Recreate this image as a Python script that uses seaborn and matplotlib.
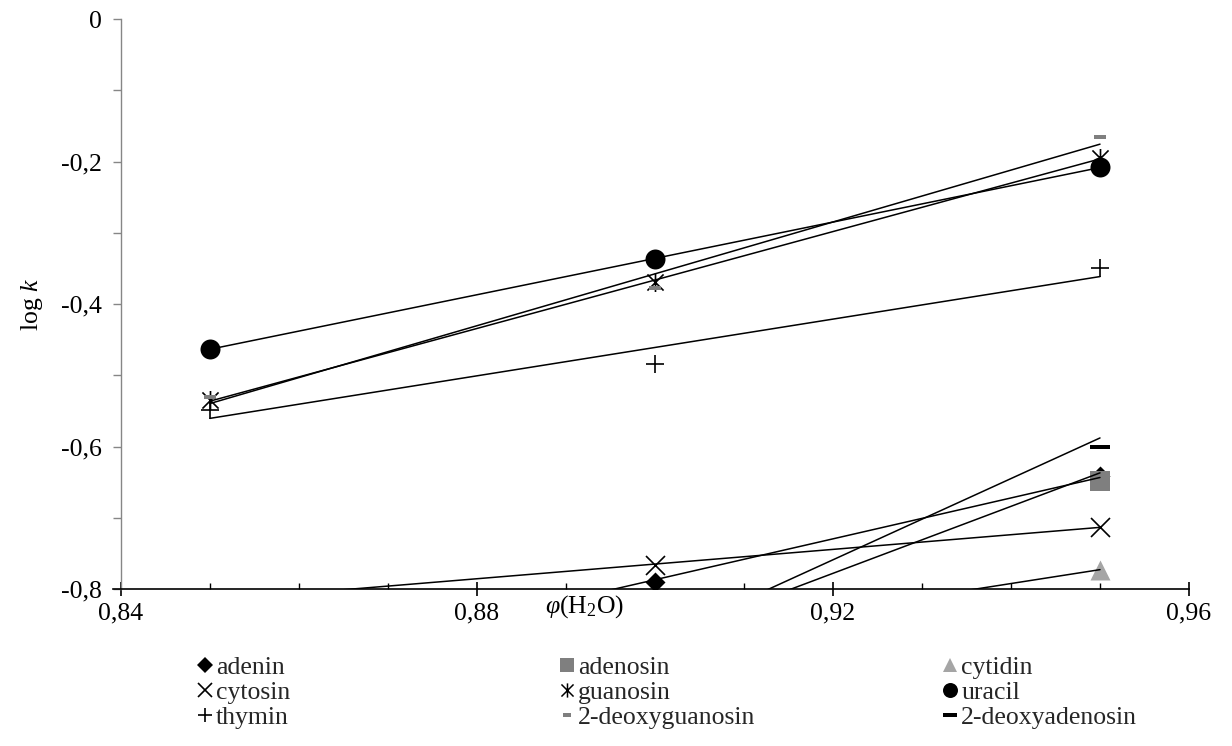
import numpy as np
import matplotlib
matplotlib.use("Agg")
import matplotlib.pyplot as plt
from matplotlib.path import Path
from matplotlib.lines import Line2D
from matplotlib.ticker import FixedLocator, MultipleLocator, FuncFormatter
import seaborn as sns

# --- data: log k against water volume fraction -------------------------
phi = [0.85, 0.90, 0.95]
adenin = [-0.929, -0.790, -0.642]
adenosin = [-1.118, -0.850, -0.648]
cytidin = [-0.968, -0.870, -0.773]
cytosin = [-0.816, -0.766, -0.713]
guanosin = [-0.535, -0.369, -0.195]
uracil = [-0.463, -0.337, -0.208]
thymin = [-0.549, -0.484, -0.350]
deoxyguanosin = [-0.530, -0.377, -0.166]
deoxyadenosin = [-1.170, -0.849, -0.600]

series_names = ["adenin", "adenosin", "cytidin", "cytosin", "guanosin",
                "uracil", "thymin", "2-deoxyguanosin", "2-deoxyadenosin"]
series_values = [adenin, adenosin, cytidin, cytosin, guanosin,
                 uracil, thymin, deoxyguanosin, deoxyadenosin]

x_ticks = [0.84, 0.88, 0.92, 0.96]
y_ticks = [0.0, -0.2, -0.4, -0.6, -0.8]

# --- theme / fonts -----------------------------------------------------
sns.set_theme(style="white")
plt.rcParams["font.family"] = ["Liberation Serif", "DejaVu Serif"]
plt.rcParams["mathtext.fontset"] = "custom"
plt.rcParams["mathtext.rm"] = "Liberation Serif"
plt.rcParams["mathtext.it"] = "Liberation Serif:italic"
FS = 18.5

# --- custom marker shapes ----------------------------------------------
M, L, C = Path.MOVETO, Path.LINETO, Path.CLOSEPOLY
star = Path([(0, -1), (0, 1), (-0.85, -0.85), (0.85, 0.85), (-0.85, 0.85), (0.85, -0.85)],
            [M, L, M, L, M, L])
def bar_marker(h):
    return Path([(-1, -h), (1, -h), (1, h), (-1, h), (-1, -h)], [M, L, L, L, C])
dash_long = bar_marker(0.25)
dash_short = bar_marker(0.45)

GRAY = "#7f7f7f"
LIGHT = "#a5a5a5"
styles = {
    "adenin":          dict(marker="D", s=104, color="black", filled=True, lw=0.0, z=2),
    "adenosin":        dict(marker="s", s=207, color=GRAY, filled=True, lw=0.0, z=2),
    "cytidin":         dict(marker="^", s=207, color=LIGHT, filled=True, lw=0.0, z=2),
    "cytosin":         dict(marker="x", s=187, color="black", filled=False, lw=1.2, z=2),
    "guanosin":        dict(marker=star, s=187, color="black", filled=True, lw=1.2, z=2),
    "uracil":          dict(marker="o", s=207, color="black", filled=True, lw=0.0, z=4),
    "thymin":          dict(marker="+", s=187, color="black", filled=False, lw=1.2, z=2),
    "2-deoxyguanosin": dict(marker=dash_short, s=63, color=GRAY, filled=True, lw=0.0, z=2),
    "2-deoxyadenosin": dict(marker=dash_long, s=207, color="black", filled=True, lw=0.0, z=2),
}

fig = plt.figure(figsize=(12.32, 7.46), dpi=100)
W, H = 1232, 746
ax = fig.add_axes([121 / W, 1 - 589 / H, (1189 - 121) / W, (589 - 19) / H])

# linear trend lines (drawn over the data range)
for name, vals in zip(series_names, series_values):
    sns.regplot(x=np.array(phi), y=np.array(vals), scatter=False, ci=None, truncate=True,
                color="black", line_kws=dict(lw=1.1, zorder=3), ax=ax)

# data points
for name, vals in zip(series_names, series_values):
    st = styles[name]
    kws = dict(marker=st["marker"], s=st["s"], color=st["color"], linewidth=st["lw"],
               zorder=st["z"], legend=False, ax=ax)
    if st["filled"]:
        kws["edgecolor"] = st["color"]
    sns.scatterplot(x=phi, y=vals, **kws)

# --- axes styling ------------------------------------------------------
ax.set_xlim(0.84, 0.96)
ax.set_ylim(-0.8, 0.0)
for side in ("top", "right"):
    ax.spines[side].set_visible(False)
ax.spines["left"].set_color("#868686")
ax.spines["left"].set_linewidth(1.0)
ax.spines["bottom"].set_color("black")
ax.spines["bottom"].set_linewidth(1.2)
ax.spines["bottom"].set_bounds(0.8391, 0.96)

comma = FuncFormatter(lambda v, p: "0" if abs(v) < 1e-9 else f"{v:.2f}".rstrip("0").replace(".", ","))
ax.xaxis.set_major_locator(FixedLocator(x_ticks))
ax.xaxis.set_minor_locator(MultipleLocator(0.01))
ax.yaxis.set_major_locator(FixedLocator(y_ticks))
ax.yaxis.set_minor_locator(MultipleLocator(0.1))
ax.xaxis.set_major_formatter(FuncFormatter(lambda v, p: f"{v:.2f}".replace(".", ",")))
ax.yaxis.set_major_formatter(comma)

ax.tick_params(axis="x", which="major", direction="inout", length=9.5, width=1.2,
               color="black", labelsize=FS, pad=5, labelcolor="black", bottom=True)
ax.tick_params(axis="x", which="minor", direction="in", length=4.5, width=1.0,
               color="black", bottom=True)
ax.tick_params(axis="y", which="both", direction="out", length=5.5, width=1.0,
               color="#868686", labelsize=FS, pad=8, labelcolor="black", left=True)

ax.set_xlabel(r"$\mathit{φ}$(H$_2$O)", fontsize=FS, color="black")
ax.xaxis.set_label_coords(0.434, -0.03)
ax.xaxis.label.set_va("center")
ax.set_ylabel(r"log $\mathit{k}$", fontsize=FS, color="black", labelpad=12)
ax.grid(False)

# --- legend: three columns below the plot --------------------------------
def handle(name):
    st = styles[name]
    ms = np.sqrt(st["s"]) * 0.75
    kw = dict(marker=st["marker"], linestyle="none", markersize=ms, color=st["color"])
    if st["filled"]:
        kw.update(markerfacecolor=st["color"], markeredgecolor=st["color"],
                  markeredgewidth=st["lw"] * 0.9)
    else:
        kw.update(markeredgewidth=st["lw"])
    return Line2D([], [], **kw)

columns = [["adenin", "cytosin", "thymin"],
           ["adenosin", "guanosin", "2-deoxyguanosin"],
           ["cytidin", "uracil", "2-deoxyadenosin"]]
col_x = [197, 559, 942]
legends = []
for names, x0 in zip(columns, col_x):
    lg = fig.legend([handle(n) for n in names], names, loc="upper left",
                    bbox_to_anchor=(x0 / W, 1 - 656 / H), bbox_transform=fig.transFigure,
                    frameon=False, fontsize=FS, handlelength=0.6, handletextpad=0.15,
                    labelspacing=0.08, borderpad=0.0, borderaxespad=0.0)
    legends.append(lg)

fig.savefig("out.png", dpi=100, facecolor="white")
